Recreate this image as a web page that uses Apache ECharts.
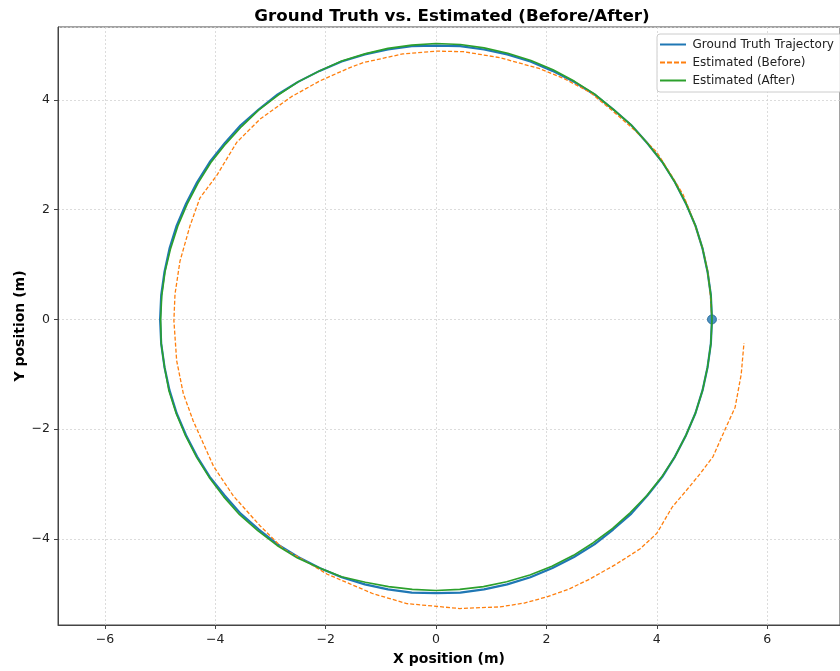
<!DOCTYPE html>
<html>
<head>
<meta charset="utf-8">
<script src="https://cdn.jsdelivr.net/npm/echarts@6/dist/echarts.min.js"></script>
<style>html,body{margin:0;padding:0;background:#fff;overflow:hidden}#c{width:840px;height:671px}</style>
</head>
<body>
<div id="c"></div>
<script>
const seriesNames = ['Ground Truth Trajectory', 'Estimated (Before)', 'Estimated (After)'];
const groundTruth = [
 [5.00,0.00],[4.98,0.44],[4.92,0.87],[4.83,1.29],[4.70,1.71],[4.53,2.11],[4.33,2.50],[4.10,2.87],[3.83,3.21],[3.54,3.54],
 [3.21,3.83],[2.87,4.10],[2.50,4.33],[2.11,4.53],[1.71,4.70],[1.29,4.83],[0.87,4.92],[0.44,4.98],
 [0.00,4.99],[-0.44,4.98],[-0.87,4.92],[-1.29,4.83],[-1.71,4.70],[-2.11,4.53],[-2.50,4.33],[-2.87,4.10],[-3.21,3.83],[-3.54,3.54],
 [-3.83,3.21],[-4.10,2.87],[-4.33,2.50],[-4.53,2.11],[-4.70,1.71],[-4.83,1.29],[-4.92,0.87],[-4.98,0.44],
 [-5.00,0.00],[-4.98,-0.44],[-4.92,-0.87],[-4.83,-1.29],[-4.70,-1.71],[-4.53,-2.11],[-4.33,-2.50],[-4.10,-2.87],[-3.83,-3.21],[-3.54,-3.54],
 [-3.21,-3.83],[-2.87,-4.10],[-2.50,-4.33],[-2.11,-4.53],[-1.71,-4.70],[-1.29,-4.83],[-0.87,-4.92],[-0.44,-4.98],
 [0.00,-4.99],[0.44,-4.98],[0.87,-4.92],[1.29,-4.83],[1.71,-4.70],[2.11,-4.53],[2.50,-4.33],[2.87,-4.10],[3.21,-3.83],[3.54,-3.54],
 [3.83,-3.21],[4.10,-2.87],[4.33,-2.50],[4.53,-2.11],[4.70,-1.71],[4.83,-1.29],[4.92,-0.87],[4.98,-0.44],[5.00,0.00]
];
const estimatedBefore = [
 [5.00,0.00],[4.97,0.45],[4.93,0.85],[4.83,1.30],[4.65,1.84],[4.48,2.27],[4.25,2.65],[4.00,3.05],[3.60,3.45],[3.20,3.80],
 [2.79,4.14],[2.30,4.40],[1.88,4.57],[1.16,4.77],[0.50,4.88],[0.01,4.89],[-0.60,4.84],[-1.32,4.68],[-1.56,4.59],[-2.10,4.35],
 [-2.62,4.06],[-3.19,3.65],[-3.61,3.23],[-3.97,2.63],[-4.28,2.21],[-4.46,1.70],[-4.64,1.06],[-4.73,0.46],[-4.75,-0.02],
 [-4.70,-0.75],[-4.58,-1.35],[-4.40,-1.85],[-4.03,-2.68],[-3.67,-3.22],[-3.19,-3.76],[-2.77,-4.18],[-2.34,-4.42],[-1.98,-4.64],
 [-1.56,-4.82],[-1.14,-5.00],[-0.53,-5.18],[0.43,-5.27],[1.16,-5.24],[1.60,-5.17],[2.00,-5.06],[2.40,-4.92],[2.79,-4.73],
 [3.25,-4.47],[3.70,-4.18],[4.00,-3.90],[4.28,-3.42],[4.55,-3.10],[4.78,-2.82],[5.02,-2.50],[5.24,-2.00],[5.42,-1.60],
 [5.53,-1.00],[5.58,-0.43]
];
const estimatedAfter = [
 [5.00,0.00],[4.98,0.44],[4.92,0.87],[4.83,1.29],[4.70,1.71],[4.53,2.11],[4.33,2.50],[4.10,2.87],[3.83,3.21],[3.54,3.54],
 [3.21,3.83],[2.87,4.11],[2.51,4.34],[2.12,4.55],[1.72,4.72],[1.30,4.85],[0.87,4.95],[0.44,5.01],
 [0.00,5.03],[-0.44,5.00],[-0.87,4.94],[-1.29,4.84],[-1.71,4.71],[-2.11,4.53],[-2.50,4.33],[-2.86,4.09],[-3.21,3.82],[-3.52,3.52],
 [-3.81,3.20],[-4.08,2.86],[-4.31,2.49],[-4.51,2.10],[-4.68,1.70],[-4.81,1.29],[-4.91,0.87],[-4.97,0.43],
 [-4.99,0.00],[-4.98,-0.44],[-4.92,-0.87],[-4.84,-1.30],[-4.71,-1.71],[-4.54,-2.12],[-4.34,-2.51],[-4.11,-2.88],[-3.85,-3.23],[-3.56,-3.56],
 [-3.23,-3.85],[-2.88,-4.12],[-2.51,-4.35],[-2.11,-4.53],[-1.71,-4.69],[-1.28,-4.79],[-0.86,-4.87],[-0.43,-4.92],
 [0.00,-4.94],[0.43,-4.92],[0.86,-4.87],[1.28,-4.78],[1.70,-4.66],[2.10,-4.50],[2.49,-4.30],[2.85,-4.07],[3.20,-3.81],[3.52,-3.52],
 [3.82,-3.21],[4.09,-2.87],[4.33,-2.50],[4.53,-2.11],[4.70,-1.71],[4.83,-1.29],[4.92,-0.87],[4.98,-0.44],[5.00,0.00]
];
const startPoint = [[5.00,0.00]];
const xRange = [-6.85, 7.32];
const yRange = [-5.57, 5.33];

const FONT = 'DejaVu Sans';
const minus = v => (v < 0 ? '\u2212' + Math.abs(v) : String(v));
const dashIcon = 'path://M0,0h5v2h-5z M7,0h5v2h-5z M14,0h5v2h-5z M21,0h5v2h-5z';
const solidIcon = 'path://M0,0h26v2h-26z';
const el = document.getElementById('c');
const chart = echarts.init(el, null, {renderer: 'canvas', width: 840, height: 671});
const axisCommon = {
  type: 'value',
  axisLine: {show: true, onZero: false, lineStyle: {color: '#444', width: 1}},
  axisTick: {show: true, inside: false, length: 4, lineStyle: {color: '#444'}},
  axisLabel: {showMinLabel: false, showMaxLabel: false, formatter: minus, color: '#222', fontFamily: FONT, fontSize: 12.5},
  splitLine: {show: true, lineStyle: {color: '#d4d4d4', type: [2, 2], width: 0.8}},
  nameMoveOverlap: false,
  nameTextStyle: {fontFamily: FONT, fontWeight: 'bold', fontSize: 14, color: '#000'}
};
chart.setOption({
  animation: false,
  backgroundColor: '#fff',
  grid: {left: 58, top: 27, right: 0, bottom: 41, show: true, borderColor: '#444', borderWidth: 1, containLabel: false},
  graphic: [
    {type: 'text', x: 452, y: 17, style: {text: 'Ground Truth vs. Estimated (Before/After)', textAlign: 'center', textVerticalAlign: 'middle',
      font: 'bold 16.7px "DejaVu Sans"', fill: '#000'}}
  ],
  legend: {
    data: [
      {name: seriesNames[0], icon: solidIcon, itemStyle: {color: '#1f77b4'}},
      {name: seriesNames[1], icon: dashIcon, itemStyle: {color: '#ff7f0e'}},
      {name: seriesNames[2], icon: solidIcon, itemStyle: {color: '#2ca02c'}}
    ],
    orient: 'vertical', left: 657, top: 34,
    padding: [3, 8, 4, 3], itemGap: 3, itemWidth: 29, itemHeight: 2,
    textStyle: {fontFamily: FONT, fontSize: 12, color: '#222', lineHeight: 15},
    borderColor: '#ccc', borderWidth: 1, borderRadius: 3, backgroundColor: 'rgba(255,255,255,0.85)'
  },
  xAxis: Object.assign({}, axisCommon, {min: xRange[0], max: xRange[1], splitNumber: 7,
    name: 'X position (m)', nameLocation: 'middle', nameGap: 27}),
  yAxis: Object.assign({}, axisCommon, {min: yRange[0], max: yRange[1], splitNumber: 5,
    name: 'Y position (m)', nameLocation: 'middle', nameGap: 31}),
  series: [
    {name: seriesNames[0], type: 'line', data: groundTruth, showSymbol: false, symbol: 'none',
      lineStyle: {color: '#1f77b4', width: 2.2}, itemStyle: {color: '#1f77b4'}, z: 2},
    {name: seriesNames[1], type: 'line', data: estimatedBefore, showSymbol: false, symbol: 'none',
      lineStyle: {color: '#ff7f0e', width: 1.3, type: [4, 2]}, itemStyle: {color: '#ff7f0e'}, z: 3},
    {name: 'start', type: 'scatter', data: startPoint, symbolSize: 9,
      itemStyle: {color: '#1f77b4', borderColor: '#1a5f90', borderWidth: 1}, z: 4},
    {name: seriesNames[2], type: 'line', data: estimatedAfter, showSymbol: false, symbol: 'none',
      lineStyle: {color: '#2ca02c', width: 1.6}, itemStyle: {color: '#2ca02c'}, z: 5}
  ]
});
</script>
</body>
</html>
